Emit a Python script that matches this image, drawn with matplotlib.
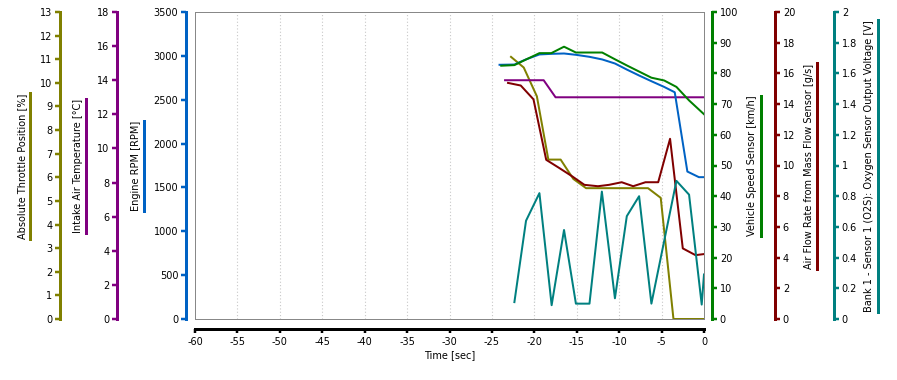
import matplotlib.pyplot as plt
from matplotlib.lines import Line2D

# time axis [sec]
time_ticks = list(range(-60, 1, 5))

# Engine RPM
rpm_t = [-24.1, -22.35, -21.0, -19.4, -18.0, -16.5, -15.1, -13.5, -12.0, -10.5, -9.1, -7.65, -6.2, -4.7, -3.45, -1.96, -0.6, 0.0]
rpm_v = [2898, 2901, 2959, 3016, 3023, 3027, 3012, 2989, 2959, 2913, 2844, 2776, 2711, 2646, 2585, 1681, 1617, 1617]

# Vehicle speed [km/h]
speed_t = [-23.9, -22.35, -21.0, -19.4, -18.0, -16.5, -15.1, -13.5, -12.0, -10.5, -9.1, -7.65, -6.2, -4.7, -3.25, -1.76, 0.0]
speed_v = [82.5, 82.7, 84.5, 86.6, 86.6, 88.7, 86.8, 86.8, 86.8, 84.6, 82.6, 80.6, 78.6, 77.7, 75.6, 71.2, 66.7]

# Intake air temperature [C]
temp_t = [-23.45, -18.9, -17.5, 0.0]
temp_v = [14, 14, 13, 13]

# Air flow rate [g/s]
maf_t = [-23.1, -21.6, -20.1, -18.6, -17.1, -15.5, -14.1, -12.5, -11.2, -9.7, -8.35, -6.9, -5.4, -4.0, -2.5, -1.0, 0.0]
maf_v = [15.38, 15.21, 14.31, 10.37, 9.85, 9.28, 8.74, 8.65, 8.74, 8.91, 8.65, 8.91, 8.91, 11.74, 4.6, 4.16, 4.23]

# Absolute throttle position [%]
thr_t = [-22.75, -21.25, -19.7, -18.35, -16.9, -15.4, -13.9, -12.4, -10.9, -9.4, -8.0, -6.6, -5.1, -3.6, 0.0]
thr_v = [11.1, 10.65, 9.43, 6.75, 6.75, 5.93, 5.54, 5.54, 5.54, 5.54, 5.54, 5.54, 5.13, 0.0, 0.0]

# O2 sensor voltage [V]
o2_t = [-22.35, -20.98, -19.4, -17.96, -16.5, -15.1, -13.5, -12.04, -10.5, -9.1, -7.65, -6.2, -3.25, -1.76, -0.27, 0.0]
o2_v = [0.11, 0.64, 0.82, 0.09, 0.58, 0.10, 0.10, 0.83, 0.135, 0.67, 0.80, 0.10, 0.90, 0.81, 0.094, 0.29]

W, H = 897, 380
PT = 0.72  # points per pixel at 100 dpi
fig = plt.figure(figsize=(W / 100, H / 100), dpi=100)
plt.rcParams['font.family'] = 'DejaVu Sans'
FS = 7

left, right, top, bottom = 195, 704, 12, 319
host = fig.add_axes([left / W, 1 - bottom / H, (right - left) / W, (bottom - top) / H])
host.set_xlim(-60, 0)
host.set_ylim(0, 1)
host.set_yticks([])
host.set_xticks(time_ticks)
host.set_xticklabels([str(t) for t in time_ticks])
for t in time_ticks[1:-1]:
    host.axvline(t, color='#c8c8c8', linestyle=(0, (1, 2)), linewidth=0.8, zorder=0)
for s in ['top', 'left', 'right']:
    host.spines[s].set_color('#888888')
    host.spines[s].set_linewidth(1 * PT)
host.spines['bottom'].set_position(('outward', 10 * PT))
host.spines['bottom'].set_linewidth(3 * PT)
host.spines['bottom'].set_color('black')
host.tick_params(axis='x', length=4 * PT, width=2.5 * PT, pad=3, labelsize=FS)
host.plot([0, 1], [0, 0], transform=host.transAxes, color='#888888', linewidth=1 * PT, clip_on=False)
host.set_xlabel('Time [sec]', fontsize=FS, labelpad=2)

# (label, times, values, color, side, offset px, ylim, ticks, tick labels, label x, bar x)
series = [
    ('Absolute Throttle Position [%]', thr_t, thr_v, '#808000', 'left', 135, 13,
     list(range(0, 14)), None, 22, 30),
    ('Intake Air Temperature [°C]', temp_t, temp_v, '#800080', 'left', 78, 18,
     list(range(0, 19, 2)), None, 78, 86),
    ('Engine RPM [RPM]', rpm_t, rpm_v, '#0062c4', 'left', 9, 3500,
     list(range(0, 3501, 500)), None, 136, 144),
    ('Vehicle Speed Sensor [km/h]', speed_t, speed_v, '#008000', 'right', 8, 100,
     list(range(0, 101, 10)), None, 752, 761),
    ('Air Flow Rate from Mass Flow Sensor [g/s]', maf_t, maf_v, '#800000', 'right', 71, 20,
     list(range(0, 21, 2)), None, 809, 817),
    ('Bank 1 - Sensor 1 (O2S): Oxygen Sensor Output Voltage [V]', o2_t, o2_v, '#008080', 'right', 130, 2,
     [i / 10 for i in range(0, 21, 2)],
     ['0', '0.2', '0.4', '0.6', '0.8', '1', '1.2', '1.4', '1.6', '1.8', '2'], 869, 878),
]

texts = []
for label, ts, vs, color, side, off, ymax, ticks, ticklabels, lx, bx in series:
    ax = host.twinx()
    ax.set_xlim(-60, 0)
    ax.set_ylim(0, ymax)
    ax.plot(ts, vs, color=color, linewidth=2 * PT, clip_on=True)
    for s in ax.spines.values():
        s.set_visible(False)
    ax.spines[side].set_visible(True)
    ax.spines[side].set_position(('outward', off * PT))
    ax.spines[side].set_color(color)
    ax.spines[side].set_linewidth(3 * PT)
    ax.yaxis.set_ticks_position(side)
    ax.set_yticks(ticks)
    if ticklabels:
        ax.set_yticklabels(ticklabels)
    ax.tick_params(axis='y', colors=color, labelcolor='black', labelsize=FS,
                   length=5 * PT, width=2.5 * PT, pad=2)
    txt = fig.text(lx / W, 1 - 166 / H, label, rotation=90, fontsize=FS,
                   ha='center', va='center')
    texts.append((txt, color, bx))

fig.canvas.draw()
renderer = fig.canvas.get_renderer()
for txt, color, bx in texts:
    bb = txt.get_window_extent(renderer)
    fig.add_artist(Line2D([bx / W, bx / W], [bb.y0 / H, bb.y1 / H],
                          transform=fig.transFigure, color=color, linewidth=3 * PT))

fig.savefig('out.png', dpi=100)
